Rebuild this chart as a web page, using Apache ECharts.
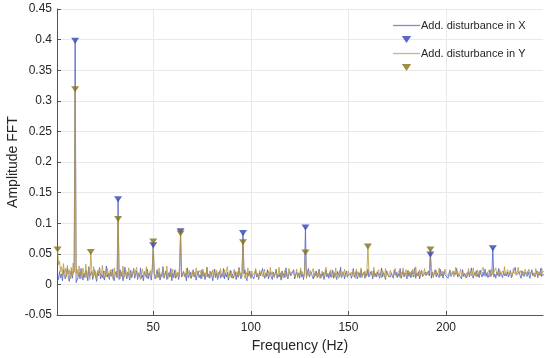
<!DOCTYPE html>
<html><head><meta charset="utf-8">
<script src="https://cdn.jsdelivr.net/npm/echarts@6/dist/echarts.min.js"></script>
<style>html,body{margin:0;padding:0;background:#fff}#c{width:550px;height:358px}</style>
</head><body><div id="c"></div>
<script>
const freqStart = 1, freqStep = 0.5;
const xTicks = [50, 100, 150, 200];
const nameX = 'Add. disturbance in X';
const nameY = 'Add. disturbance in Y';
const peakFreqX = [10, 32, 50, 64, 96, 128, 192, 224];
const peakAmpX = [0.398, 0.139, 0.064, 0.087, 0.084, 0.093, 0.049, 0.059];
const peakFreqY = [1, 10, 18, 32, 50, 64, 96, 128, 160, 192];
const peakAmpY = [0.057, 0.319, 0.053, 0.107, 0.070, 0.083, 0.069, 0.052, 0.062, 0.057];
const noiseX = [
.014,.008,.021,.011,.017,.006,.024,.013,.009,.019,.027,.012,.005,.016,.022,.010,.018,.025,.015,.003,
.002,.012,.020,.009,.026,.014,.007,.018,.011,.023,.016,.006,.029,.013,.010,.021,.008,.017,.024,.012,
.005,.019,.014,.027,.009,.016,.011,.022,.007,.015,.030,.012,.018,.008,.020,.013,.025,.010,.006,.017,
.021,.011,.016,.008,.024,.013,.019,.006,.012,.028,.015,.009,.020,.014,.007,.023,.011,.017,.026,.010,
.013,.022,.008,.018,.012,.027,.010,.015,.006,.021,.016,.011,.025,.009,.019,.014,.007,.023,.012,.018,
.009,.015,.024,.011,.020,.007,.017,.013,.029,.010,.016,.022,.008,.014,.019,.012,.026,.006,.018,.011,
.023,.010,.014,.019,.008,.016,.025,.012,.009,.021,.013,.018,.006,.027,.011,.015,.020,.010,.017,.024,
.012,.018,.007,.015,.022,.011,.016,.009,.024,.013,.019,.008,.014,.028,.012,.017,.010,.021,.015,.006,
.016,.025,.011,.019,.008,.014,.022,.010,.017,.013,.026,.009,.018,.012,.020,.007,.015,.023,.011,.017,
.010,.014,.021,.008,.018,.012,.027,.015,.009,.020,.013,.017,.024,.011,.006,.019,.014,.022,.010,.016,
.019,.009,.015,.023,.012,.017,.008,.021,.014,.011,.026,.016,.010,.018,.013,.024,.009,.015,.020,.012,
.008,.020,.013,.017,.025,.010,.016,.012,.019,.007,.022,.014,.018,.011,.027,.013,.009,.017,.021,.014,
.015,.011,.024,.009,.016,.020,.013,.018,.010,.023,.012,.017,.008,.021,.015,.011,.019,.026,.012,.016,
.020,.013,.009,.018,.014,.022,.011,.016,.025,.010,.017,.013,.020,.008,.015,.024,.012,.018,.010,.021,
.012,.017,.023,.010,.019,.014,.008,.021,.016,.012,.028,.011,.015,.019,.009,.017,.022,.013,.016,.010,
.018,.010,.015,.026,.012,.017,.021,.009,.014,.019,.011,.024,.013,.016,.020,.010,.018,.014,.025,.012,
.011,.021,.016,.009,.023,.013,.018,.012,.020,.015,.010,.017,.027,.012,.019,.014,.008,.022,.016,.013,
.017,.012,.019,.014,.010,.024,.015,.020,.011,.018,.013,.026,.010,.016,.021,.012,.019,.015,.009,.023,
.013,.019,.011,.022,.016,.012,.027,.010,.018,.014,.021,.009,.017,.023,.013,.016,.011,.020,.015,.018,
.022,.014,.017,.010,.020,.013,.016,.024,.012,.019,.015,.011,.025,.014,.018,.010,.021,.016,.013,.019,
.010,.018,.023,.013,.016,.011,.021,.015,.019,.026,.012,.017,.014,.020,.009,.024,.013,.018,.016,.011,
.016,.021,.012,.018,.027,.014,.010,.019,.015,.022,.013,.017,.011,.023,.016,.012,.020,.014,.025,.013,
.019,.011,.016,.024,.013,.018,.022,.012,.017,.010,.020,.015,.026,.013,.019,.016,.011,.021,.014,.018,
.014,.020,.012,.017,.023,.011,.016,.019,.013,.028,.015,.012,.018,.021,.014,.010,.022,.017,.013,.020,
.017,.013,.021,.015,.010,.019,.024,.014,.018,.012,.016,.022,.011,.019,.015,.026,.013,.017,.020,.014
];
const noiseY = [
.045,.032,.038,.021,.029,.015,.034,.019,.026,.012,.031,.017,.024,.009,.028,.014,.035,.020,.011,.018,
.025,.013,.030,.016,.022,.010,.027,.018,.014,.033,.011,.020,.026,.008,.019,.024,.012,.029,.015,.021,
.010,.023,.017,.028,.013,.019,.031,.009,.022,.016,.012,.026,.018,.011,.024,.014,.020,.008,.027,.015,
.019,.012,.025,.016,.009,.021,.014,.030,.011,.018,.023,.013,.017,.027,.010,.020,.015,.012,.024,.016,
.014,.028,.011,.019,.022,.008,.017,.025,.013,.020,.016,.029,.010,.018,.014,.023,.011,.026,.015,.019,
.022,.010,.018,.013,.027,.016,.011,.020,.024,.012,.019,.015,.030,.009,.017,.021,.013,.018,.025,.011,
.016,.024,.012,.020,.015,.029,.010,.018,.013,.022,.017,.011,.026,.014,.019,.023,.010,.016,.021,.013,
.020,.011,.027,.015,.018,.012,.023,.016,.010,.025,.014,.019,.012,.028,.016,.011,.022,.017,.013,.024,
.012,.019,.015,.023,.010,.020,.016,.026,.013,.018,.011,.024,.017,.014,.029,.012,.019,.015,.022,.010,
.018,.025,.013,.017,.021,.011,.028,.014,.019,.012,.023,.016,.010,.020,.015,.027,.013,.018,.011,.022,
.015,.012,.020,.026,.014,.018,.010,.023,.016,.021,.013,.017,.025,.011,.019,.014,.022,.012,.028,.016,
.021,.016,.011,.019,.024,.013,.017,.028,.012,.015,.020,.010,.018,.023,.014,.019,.011,.026,.016,.013,
.013,.022,.018,.012,.016,.025,.011,.019,.014,.027,.016,.021,.012,.017,.024,.010,.020,.015,.018,.023,
.017,.014,.026,.011,.021,.015,.019,.012,.024,.016,.010,.022,.018,.013,.020,.028,.014,.017,.012,.019,
.024,.011,.016,.020,.013,.027,.015,.018,.010,.023,.017,.012,.021,.016,.025,.013,.019,.011,.022,.015,
.012,.020,.014,.023,.017,.010,.025,.016,.021,.013,.018,.027,.011,.019,.015,.022,.012,.024,.016,.020,
.019,.015,.022,.013,.028,.016,.012,.020,.017,.024,.014,.019,.011,.023,.018,.013,.026,.015,.021,.012,
.014,.023,.017,.019,.012,.021,.026,.013,.018,.015,.022,.011,.020,.016,.027,.014,.019,.024,.013,.017,
.022,.016,.020,.012,.025,.017,.014,.029,.015,.019,.013,.024,.016,.021,.012,.018,.026,.014,.020,.017,
.015,.021,.013,.026,.018,.011,.020,.016,.023,.014,.019,.027,.013,.017,.022,.015,.012,.025,.018,.016,
.020,.013,.024,.017,.015,.022,.012,.019,.028,.016,.021,.014,.018,.025,.013,.020,.017,.023,.011,.019,
.013,.026,.016,.021,.014,.018,.027,.015,.020,.012,.024,.017,.022,.016,.019,.013,.028,.018,.015,.021,
.018,.015,.023,.012,.020,.025,.016,.019,.014,.027,.017,.021,.013,.024,.018,.015,.022,.016,.029,.014,
.016,.024,.019,.014,.022,.017,.013,.026,.018,.021,.015,.020,.028,.016,.019,.023,.014,.021,.017,.025,
.021,.017,.014,.025,.016,.020,.023,.015,.019,.013,.026,.018,.022,.016,.020,.014,.027,.019,.017,.023
];

function buildLine(noise, pf, pa) {
  return noise.map(function (v, i) {
    const f = freqStart + i * freqStep;
    const k = pf.indexOf(f);
    return [f, k >= 0 ? pa[k] : v];
  });
}
function buildPeaks(pf, pa) { return pf.map(function (f, k) { return [f, pa[k]]; }); }

const colLineX = '#4d5fc9', colMarkX = '#2f42b8';
const colLineY = '#bd993c', colMarkY = '#837216';
const tri = 'path://M0,0L8,0L4,6Z';
const lineIcon = 'path://M0,0H27V1.3H0Z';
const font = 'Liberation Sans, Arial, sans-serif';
const txt = '#262626';

const chart = echarts.init(document.getElementById('c'), null, {renderer: 'canvas'});
chart.setOption({
  animation: false,
  backgroundColor: '#fff',
  grid: {left: 57, right: 7, top: 9, bottom: 43, containLabel: false, outerBoundsMode: 'none'},
  legend: {
    orient: 'vertical', left: 393, top: 20, padding: 0,
    itemWidth: 27, itemHeight: 7, itemGap: 5, selectedMode: false,
    textStyle: {fontSize: 11, color: txt, fontFamily: font, lineHeight: 7, padding: [0, 0, 0, -4]},
    formatter: function (n) { return n.indexOf('Peaks') === 0 ? '' : n; },
    data: [
      {name: nameX, icon: lineIcon,
       itemStyle: {color: '#7b8bd6', borderColor: '#7b8bd6', borderWidth: 0, opacity: 1}},
      {name: 'Peaks in X', icon: tri, itemStyle: {color: colMarkX, borderWidth: 0}},
      {name: nameY, icon: lineIcon,
       itemStyle: {color: '#d4b27c', borderColor: '#d4b27c', borderWidth: 0, opacity: 1}},
      {name: 'Peaks in Y', icon: tri, itemStyle: {color: colMarkY, borderWidth: 0}}
    ]
  },
  xAxis: {
    type: 'value', min: 0.7, max: 249.7,
    name: 'Frequency (Hz)', nameLocation: 'middle', nameGap: 23,
    nameTextStyle: {fontSize: 14, color: txt, fontFamily: font},
    axisLine: {show: true, onZero: false, lineStyle: {color: '#555', width: 1}},
    axisTick: {show: true, inside: true, length: 4, customValues: xTicks, lineStyle: {color: '#555'}},
    axisLabel: {customValues: xTicks, fontSize: 12, color: txt, fontFamily: font, margin: 7},
    splitLine: {show: true, lineStyle: {color: '#e9e9e9', width: 1}}
  },
  yAxis: {
    type: 'value', min: -0.05, max: 0.45, interval: 0.05,
    name: 'Amplitude FFT', nameLocation: 'middle', nameGap: 37, nameMoveOverlap: false,
    nameTextStyle: {fontSize: 14, color: txt, fontFamily: font},
    axisLine: {show: true, onZero: false, lineStyle: {color: '#555', width: 1}},
    axisTick: {show: true, inside: true, length: 4, lineStyle: {color: '#555'}},
    axisLabel: {fontSize: 12, color: txt, fontFamily: font, margin: 5},
    splitLine: {show: true, lineStyle: {color: '#e9e9e9', width: 1}}
  },
  series: [
    {name: nameX, type: 'line', data: buildLine(noiseX, peakFreqX, peakAmpX), symbol: 'none',
     sampling: null, lineStyle: {color: colLineX, width: 0.8}, itemStyle: {color: colLineX}, z: 2},
    {name: nameY, type: 'line', data: buildLine(noiseY, peakFreqY, peakAmpY), symbol: 'none',
     sampling: null, lineStyle: {color: colLineY, width: 0.8}, itemStyle: {color: colLineY}, z: 3},
    {name: 'Peaks in X', type: 'scatter', data: buildPeaks(peakFreqX, peakAmpX), symbol: tri,
     symbolSize: [8, 6], itemStyle: {color: colMarkX}, z: 5},
    {name: 'Peaks in Y', type: 'scatter', data: buildPeaks(peakFreqY, peakAmpY), symbol: tri,
     symbolSize: [8, 6], itemStyle: {color: colMarkY}, z: 6}
  ]
});
</script>
</body></html>
